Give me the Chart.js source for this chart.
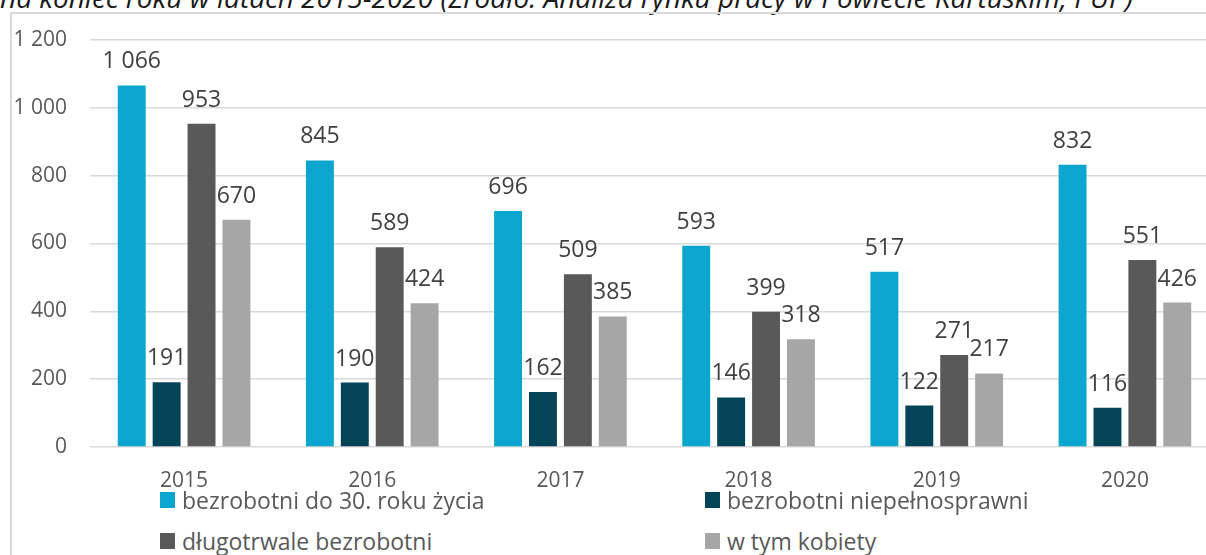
<!DOCTYPE html>
<html>
<head>
<meta charset="utf-8">
<script src="https://cdn.jsdelivr.net/npm/chart.js@4/dist/chart.umd.min.js"></script>
<style>
  html, body { margin: 0; padding: 0; background: #fff; }
  body { width: 1206px; height: 555px; overflow: hidden; position: relative; font-family: "Open Sans", sans-serif; }
  #title { position: absolute; left: 0; top: -22px; white-space: nowrap; font-style: italic; font-size: 28px; color: #1a1a1a; }
  #frame { position: absolute; left: 10px; top: 12px; width: 1300px; height: 700px; border-left: 2px solid #d9d9d9; border-top: 2px solid #d9d9d9; }
  #chart { position: absolute; left: 0; top: 0; }
  .leg { position: absolute; white-space: nowrap; font-size: 23px; line-height: 30px; height: 30px; color: #595959; display: flex; align-items: center; }
  .leg span.box { display: inline-block; width: 15px; height: 16px; margin-right: 7px; }
</style>
</head>
<body>
<div id="title">na koniec roku w latach 2015-2020 (Źródło: Analiza rynku pracy w Powiecie Kartuskim, PUP)</div>
<div id="frame"></div>
<canvas id="chart" width="1219" height="500"></canvas>
<div id="legend"></div>
<script>
// ===== DATA =====
const years = ["2015", "2016", "2017", "2018", "2019", "2020"];
const seriesLabels = [
    "bezrobotni do 30. roku życia",
    "bezrobotni niepełnosprawni",
    "długotrwale bezrobotni",
    "w tym kobiety"
];
const under30 = [1066, 845, 696, 593, 517, 832];
const disabled = [191, 190, 162, 146, 122, 116];
const longTerm = [953, 589, 509, 399, 271, 551];
const women = [670, 424, 385, 318, 217, 426];
const yTicks = [0, 200, 400, 600, 800, 1000, 1200];

const seriesColors = ["#0ba6cf", "#044458", "#595959", "#a6a6a6"];

function fmt(v) {
    return String(v).replace(/\B(?=(\d{3})+(?!\d))/g, " ");
}

// ===== LEGEND (html) =====
const legend = document.getElementById("legend");
const legPos = [[160, 485], [705, 485], [160, 526], [705, 526]];
seriesLabels.forEach((lab, i) => {
    legend.innerHTML += `<div class="leg" style="left:${legPos[i][0]}px;top:${legPos[i][1]}px">
        <span class="box" style="background:${seriesColors[i]}"></span>${lab}</div>`;
});

// ===== VALUE LABELS =====
const valueLabels = {
    id: "valueLabels",
    afterDatasetsDraw(chart) {
        const ctx = chart.ctx;
        ctx.save();
        ctx.font = "23px 'Open Sans'";
        ctx.fillStyle = "#404040";
        ctx.textAlign = "center";
        ctx.textBaseline = "alphabetic";
        chart.data.datasets.forEach((ds, i) => {
            chart.getDatasetMeta(i).data.forEach((bar, j) => {
                ctx.fillText(fmt(ds.data[j]), bar.x, bar.y - 17);
            });
        });
        ctx.restore();
    }
};

// ===== CHART =====
const allSeries = [under30, disabled, longTerm, women];

new Chart(document.getElementById("chart"), {
    type: "bar",
    data: {
        labels: years,
        datasets: allSeries.map((d, i) => ({
            label: seriesLabels[i],
            data: d,
            backgroundColor: seriesColors[i],
            categoryPercentage: 0.742,
            barPercentage: 0.8
        }))
    },
    options: {
        responsive: false,
        animation: false,
        devicePixelRatio: 1,
        layout: { padding: { top: 40, left: 0, right: 0, bottom: 0 } },
        plugins: {
            legend: { display: false },
            tooltip: { enabled: false }
        },
        scales: {
            x: {
                grid: { display: false },
                border: { display: false },
                ticks: { color: "#595959", font: { family: "Open Sans", size: 21 }, padding: 13 },
                afterFit: s => { s.height = 53; }
            },
            y: {
                min: 0,
                max: 1200,
                afterBuildTicks: s => { s.ticks = yTicks.map(v => ({ value: v })); },
                grid: { color: "#d9d9d9", lineWidth: 1.5, drawTicks: false },
                border: { display: false },
                ticks: {
                    color: "#595959",
                    font: { family: "Open Sans", size: 21 },
                    padding: 23,
                    callback: v => fmt(v)
                },
                afterFit: s => { s.width = 90; }
            }
        }
    },
    plugins: [valueLabels]
});
</script>
</body>
</html>
